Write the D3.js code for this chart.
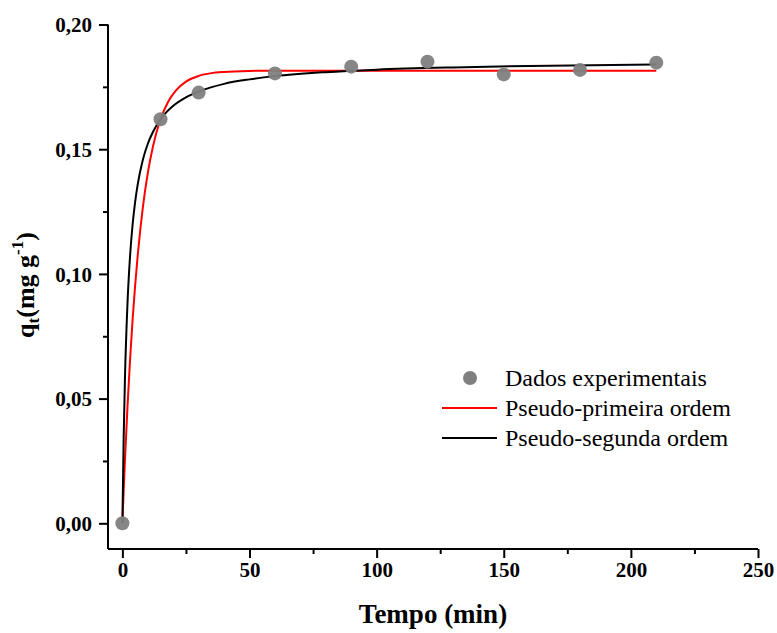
<!DOCTYPE html>
<html>
<head>
<meta charset="utf-8">
<script src="https://cdn.jsdelivr.net/npm/d3@7/dist/d3.min.js"></script>
<style>
  body { margin: 0; background: #fff; }
  svg { display: block; }
</style>
</head>
<body>
<svg id="chart" width="777" height="633"></svg>
<script>
// ---- data ----
const expTime = [0, 15, 30, 60, 90, 120, 150, 180, 210];
const expQ = [0.0, 0.162, 0.1727, 0.1804, 0.1831, 0.1851, 0.1800, 0.1818, 0.1847];

const pfoTime = [0, 0.5, 1, 2, 3, 4, 5, 6, 7, 8, 10, 12, 15, 18, 21, 25, 30, 35, 40, 50, 60, 100, 150, 210];
const pfoQ = [0, 0.0130, 0.0251, 0.0467, 0.0653, 0.0814, 0.0952, 0.1071, 0.1174, 0.1263, 0.1405, 0.1510, 0.1620, 0.1690, 0.1735, 0.1771, 0.1794, 0.1805, 0.1810, 0.1814, 0.1815, 0.1815, 0.1815, 0.1815];

const psoTime = [0, 0.5, 1, 2, 3, 4, 5, 6, 8, 10, 12, 15, 20, 25, 30, 40, 50, 60, 80, 100, 130, 160, 210];
const psoQ = [0, 0.0342, 0.0578, 0.0881, 0.1069, 0.1196, 0.1288, 0.1357, 0.1456, 0.1522, 0.1569, 0.1620, 0.1674, 0.1708, 0.1731, 0.1762, 0.1780, 0.1793, 0.1809, 0.1819, 0.1828, 0.1834, 0.1840];

const xTicks = [0, 50, 100, 150, 200, 250];
const xMinor = [25, 75, 125, 175, 225];
const yTicks = [0, 0.05, 0.10, 0.15, 0.20];
const yMinor = [0.025, 0.075, 0.125, 0.175];
const yTickLabels = ["0,00", "0,05", "0,10", "0,15", "0,20"];

const legendLabels = ["Dados experimentais", "Pseudo-primeira ordem", "Pseudo-segunda ordem"];

// ---- layout ----
const svg = d3.select("#chart");
const mLeft = 108, mRight = 758, mTop = 24.5, mBottom = 549;

const x = d3.scaleLinear().domain([-5.66, 250]).range([mLeft, mRight]);
const y = d3.scaleLinear().domain([-0.0103, 0.20]).range([mBottom, mTop]);

const serif = "'Liberation Serif', 'Times New Roman', serif";

// axes
const xAxis = d3.axisBottom(x).tickValues(xTicks).tickSize(9).tickSizeOuter(0).tickFormat(d3.format("d"));
const yAxis = d3.axisLeft(y).tickValues(yTicks).tickSize(9).tickSizeOuter(0)
  .tickFormat((d, i) => yTickLabels[i]);

const gx = svg.append("g").attr("transform", `translate(0,${mBottom})`).call(xAxis);
const gy = svg.append("g").attr("transform", `translate(${mLeft},0)`).call(yAxis);

svg.append("g").attr("transform", `translate(0,${mBottom})`)
  .call(d3.axisBottom(x).tickValues(xMinor).tickSize(5).tickSizeOuter(0).tickFormat(""))
  .select(".domain").remove();
svg.append("g").attr("transform", `translate(${mLeft},0)`)
  .call(d3.axisLeft(y).tickValues(yMinor).tickSize(5).tickSizeOuter(0).tickFormat(""))
  .select(".domain").remove();

svg.selectAll(".domain, .tick line").attr("stroke", "#000").attr("stroke-width", 2);
gx.select(".domain").attr("d", `M${mLeft},0H${mRight}`);
gy.select(".domain").attr("d", `M0,${mTop}V${mBottom}`);

gx.selectAll(".tick text").attr("font-family", serif).attr("font-weight", "bold")
  .attr("font-size", 21).attr("fill", "#000").attr("dy", "0.85em").attr("y", 10);
gy.selectAll(".tick text").attr("font-family", serif).attr("font-weight", "bold")
  .attr("font-size", 21).attr("fill", "#000").attr("x", -16).attr("dy", "0.35em");

// lines
const line = d3.line().x(d => x(d[0])).y(d => y(d[1])).curve(d3.curveMonotoneX);

svg.append("path")
  .datum(pfoTime.map((t, i) => [t, pfoQ[i]]))
  .attr("fill", "none").attr("stroke", "#ff0000").attr("stroke-width", 2)
  .attr("d", line);

svg.append("path")
  .datum(psoTime.map((t, i) => [t, psoQ[i]]))
  .attr("fill", "none").attr("stroke", "#000").attr("stroke-width", 2)
  .attr("d", line);

// points
svg.append("g").selectAll("circle")
  .data(expTime.map((t, i) => [t, expQ[i]]))
  .join("circle")
  .attr("cx", d => x(d[0])).attr("cy", d => y(d[1]))
  .attr("r", 7).attr("fill", "#7f7f7f").attr("fill-opacity", 0.95);

// axis titles
svg.append("text")
  .attr("x", 433).attr("y", 623)
  .attr("text-anchor", "middle")
  .attr("font-family", serif).attr("font-weight", "bold").attr("font-size", 27)
  .text("Tempo (min)");

const yt = svg.append("text")
  .attr("transform", "translate(34,285) rotate(-90)")
  .attr("text-anchor", "middle")
  .attr("font-family", serif).attr("font-weight", "bold").attr("font-size", 26);
yt.append("tspan").text("q");
yt.append("tspan").attr("font-size", 17).attr("dy", 5).text("t");
yt.append("tspan").attr("dy", -5).text("(mg g");
yt.append("tspan").attr("font-size", 17).attr("dy", -11).text("-1");
yt.append("tspan").attr("dy", 11).text(")");

// legend
const lg = svg.append("g");
const lgY = [378, 408, 438];
lg.append("circle").attr("cx", 470).attr("cy", lgY[0]).attr("r", 7).attr("fill", "#7f7f7f");
lg.append("line").attr("x1", 442).attr("x2", 497).attr("y1", lgY[1]).attr("y2", lgY[1])
  .attr("stroke", "#ff0000").attr("stroke-width", 2);
lg.append("line").attr("x1", 442).attr("x2", 497).attr("y1", lgY[2]).attr("y2", lgY[2])
  .attr("stroke", "#000").attr("stroke-width", 2);
lg.selectAll("text").data(legendLabels).join("text")
  .attr("x", 505).attr("y", (d, i) => lgY[i]).attr("dy", "0.33em")
  .attr("font-family", serif).attr("font-size", 24).attr("fill", "#000")
  .text(d => d);
</script>
</body>
</html>
